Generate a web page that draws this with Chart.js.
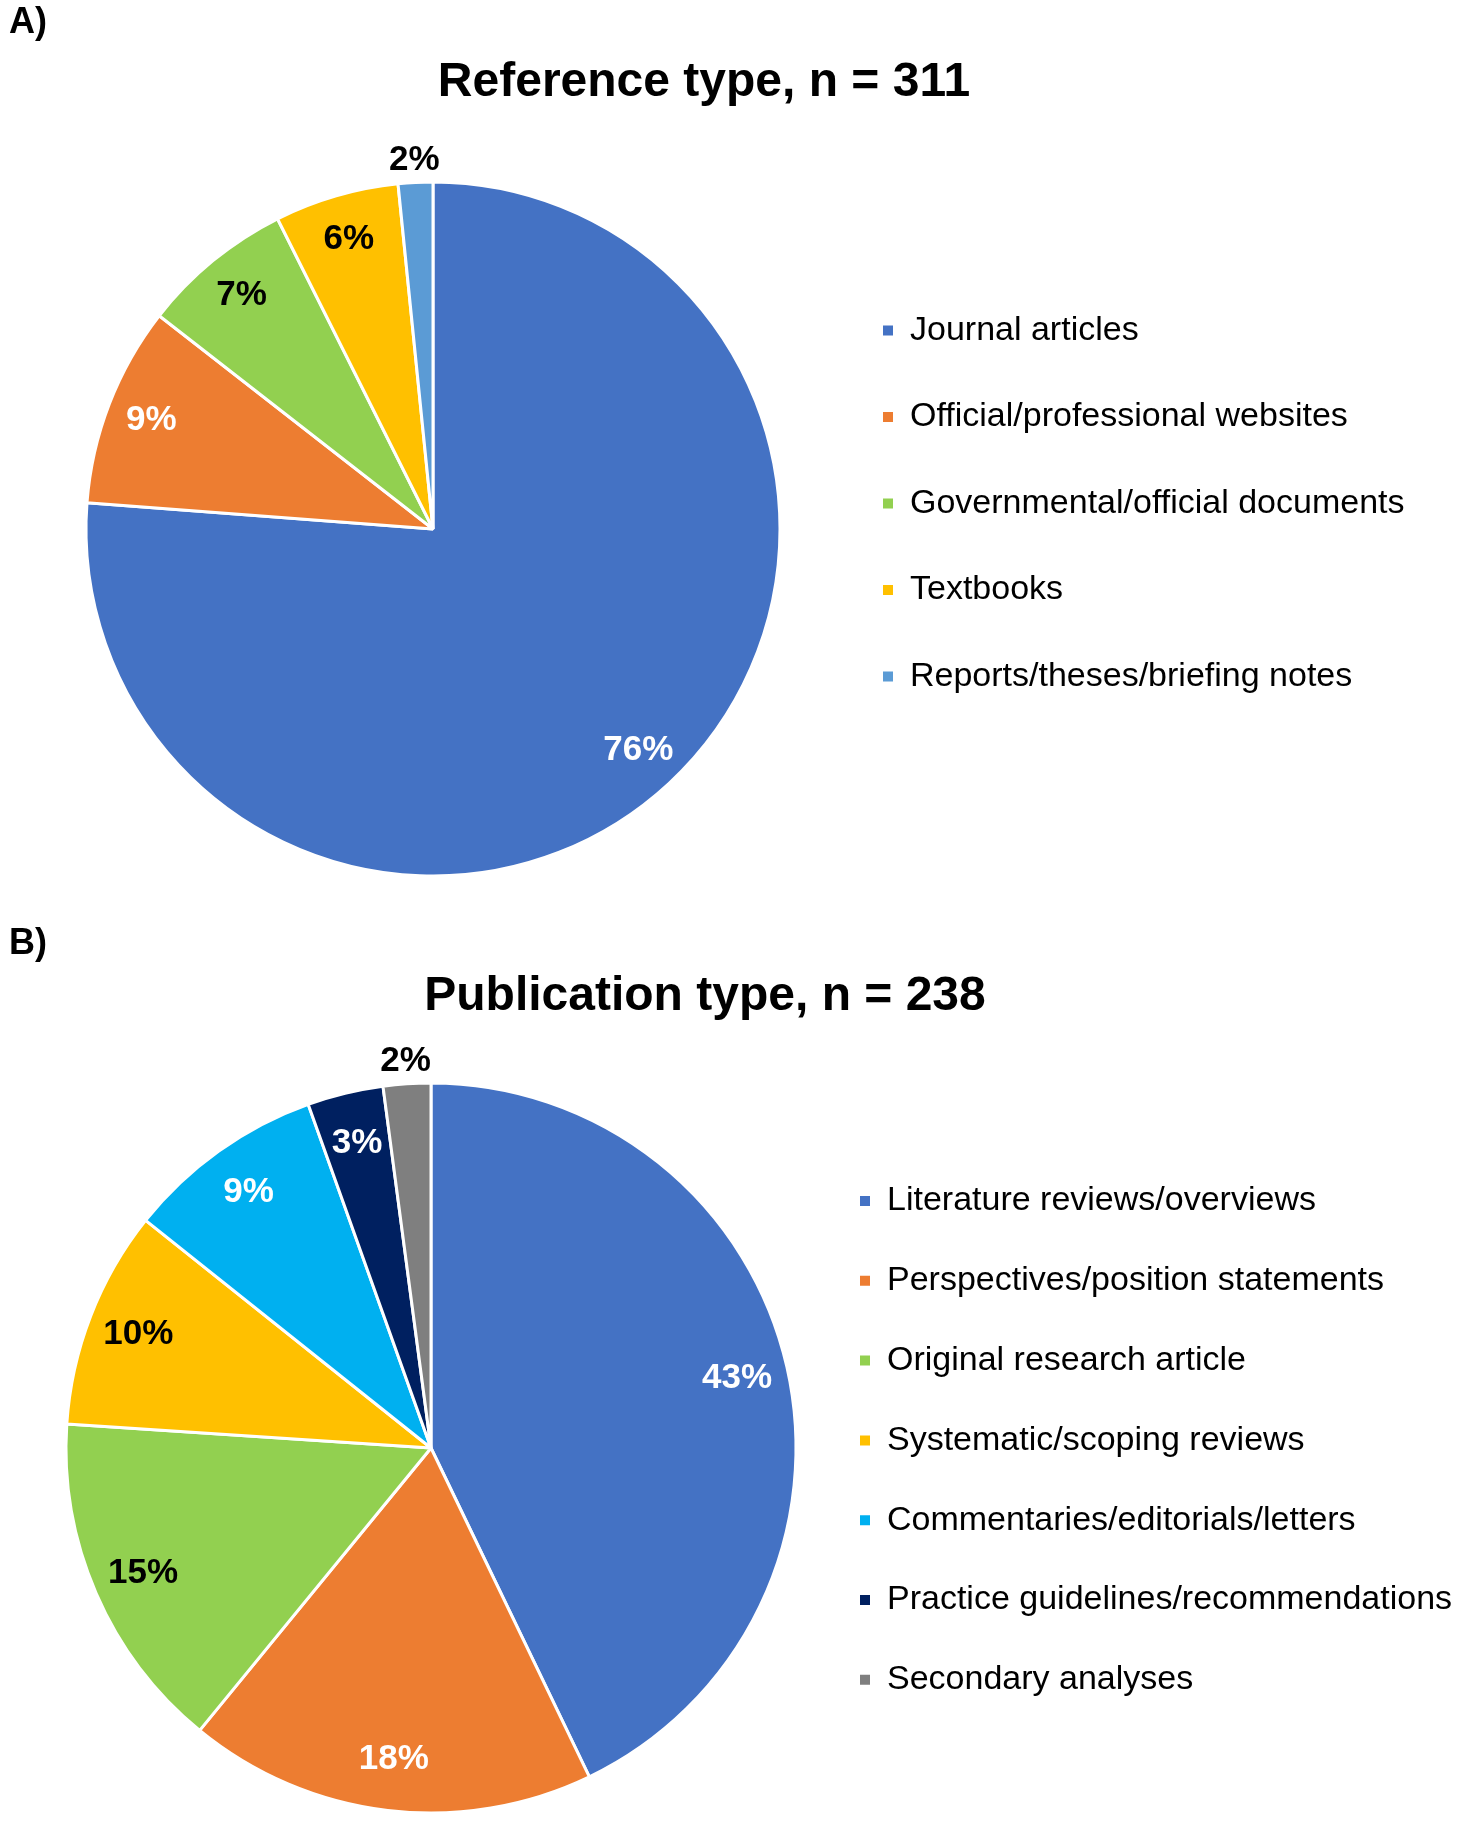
<!DOCTYPE html>
<html>
<head>
<meta charset="utf-8">
<title>Reference and publication type</title>
<script src="https://cdn.jsdelivr.net/npm/chart.js@4.4.1/dist/chart.umd.min.js"></script>
<style>
  html, body { margin: 0; padding: 0; background: #fff; }
  .panel { position: absolute; left: 0; width: 1469px; }
  #panelA { top: 0; height: 900px; }
  #panelB { top: 900px; height: 921px; }
</style>
</head>
<body>
<div class="panel" id="panelA"><canvas id="refChart"></canvas></div>
<div class="panel" id="panelB"><canvas id="pubChart"></canvas></div>
<script>
// A) reference type, n = 311 (estimated counts; labels show rounded percent)
const refTypeLabels = ['Journal articles', 'Official/professional websites', 'Governmental/official documents', 'Textbooks', 'Reports/theses/briefing notes'];
const refTypeCounts = [237, 29, 22, 18, 5];

// B) publication type, n = 238
const pubTypeLabels = ['Literature reviews/overviews', 'Perspectives/position statements', 'Original research article', 'Systematic/scoping reviews', 'Commentaries/editorials/letters', 'Practice guidelines/recommendations', 'Secondary analyses'];
const pubTypeCounts = [102, 43, 36, 23, 21, 8, 5];

const refColors = ['#4472C4', '#ED7D31', '#92D050', '#FFC000', '#5B9BD5'];
const pubColors = ['#4472C4', '#ED7D31', '#92D050', '#FFC000', '#00B0F0', '#002060', '#7F7F7F'];

const FONT = '"Liberation Sans", Arial, Helvetica, sans-serif';
const LEGEND_SIZE = 34;
const BOX = 10;
const WIDTH = 1469;

// panel letter and chart heading
const headings = {
    id: 'headings',
    afterDraw(chart, args, opts) {
        const ctx = chart.ctx;
        ctx.save();
        ctx.fillStyle = '#000';
        ctx.textBaseline = 'middle';
        ctx.font = 'bold 36px ' + FONT;
        ctx.textAlign = 'left';
        ctx.fillText(opts.panel, 9, opts.panelY);
        ctx.font = 'bold 48px ' + FONT;
        ctx.textAlign = 'center';
        ctx.fillText(opts.title, opts.titleX, opts.titleY);
        ctx.restore();
    }
};

// percentage labels on the slices (small slices get the label outside)
const pctLabels = {
    id: 'pctLabels',
    afterDatasetsDraw(chart, args, opts) {
        const ctx = chart.ctx;
        const meta = chart.getDatasetMeta(0);
        const counts = chart.data.datasets[0].data;
        const total = counts.reduce((a, b) => a + b, 0);
        ctx.save();
        ctx.font = 'bold 35px ' + FONT;
        ctx.textAlign = 'center';
        ctx.textBaseline = 'middle';
        meta.data.forEach((arc, i) => {
            const p = arc.getProps(['x', 'y', 'startAngle', 'endAngle', 'outerRadius'], true);
            const mid = (p.startAngle + p.endAngle) / 2;
            const pct = Math.round(counts[i] / total * 100);
            const outside = pct < opts.outsideBelow;
            const dist = outside ? p.outerRadius + 22 : p.outerRadius * opts.inset;
            ctx.fillStyle = outside ? '#000' : opts.colors[i];
            ctx.fillText(pct + '%', p.x + Math.cos(mid) * dist, p.y + Math.sin(mid) * dist);
        });
        ctx.restore();
    }
};

// width the legend needs so that its longest label is not clipped
function legendWidth(labels, gap) {
    const m = document.createElement('canvas').getContext('2d');
    m.font = LEGEND_SIZE + 'px ' + FONT;
    const textW = Math.max(...labels.map(l => m.measureText(l).width));
    return Math.ceil(gap + BOX + LEGEND_SIZE / 2 + textW + 4);
}

function makePie(id, labels, counts, colors, lay) {
    const legW = legendWidth(labels, lay.legendGap);
    const legLeft = lay.markerX - lay.legendGap;
    return new Chart(document.getElementById(id).getContext('2d'), {
        type: 'pie',
        data: {
            labels: labels,
            datasets: [{
                data: counts,
                backgroundColor: colors,
                borderColor: '#ffffff',
                borderWidth: 3,
                radius: lay.radius
            }]
        },
        options: {
            responsive: true,
            maintainAspectRatio: false,
            animation: false,
            layout: {
                padding: {
                    left: 2 * lay.cx - legLeft,
                    right: WIDTH - legLeft - legW,
                    top: lay.areaTop,
                    bottom: lay.height - (2 * lay.cy - lay.areaTop)
                }
            },
            plugins: {
                legend: {
                    position: 'right',
                    align: 'start',
                    fullSize: false,
                    maxWidth: legW,
                    labels: {
                        usePointStyle: true,
                        pointStyle: 'rect',
                        boxHeight: BOX,
                        pointStyleWidth: BOX,
                        padding: lay.legendGap,
                        color: '#000',
                        font: { family: FONT, size: LEGEND_SIZE },
                        generateLabels: (chart) => Chart.overrides.pie.plugins.legend.labels
                            .generateLabels(chart).map(item => Object.assign(item, { lineWidth: 0 }))
                    }
                },
                tooltip: { enabled: false },
                headings: lay.headings,
                pctLabels: lay.pct
            }
        },
        plugins: [pctLabels, headings]
    });
}

makePie('refChart', refTypeLabels, refTypeCounts, refColors, {
    height: 900,
    radius: 347,
    cx: 433,
    cy: 529,
    areaTop: 261,
    markerX: 883,
    legendGap: 52.5,
    headings: { panel: 'A)', panelY: 23, title: 'Reference type, n = 311', titleX: 704, titleY: 83 },
    pct: { colors: ['#fff', '#fff', '#000', '#000', '#000'], inset: 0.87, outsideBelow: 3 }
});

makePie('pubChart', pubTypeLabels, pubTypeCounts, pubColors, {
    height: 921,
    radius: 365,
    cx: 431,
    cy: 548,
    areaTop: 238.2,
    markerX: 860,
    legendGap: 45.8,
    headings: { panel: 'B)', panelY: 44, title: 'Publication type, n = 238', titleX: 705, titleY: 97 },
    pct: { colors: ['#fff', '#fff', '#000', '#000', '#fff', '#fff', '#000'], inset: 0.86, outsideBelow: 2.5 }
});
</script>
</body>
</html>
